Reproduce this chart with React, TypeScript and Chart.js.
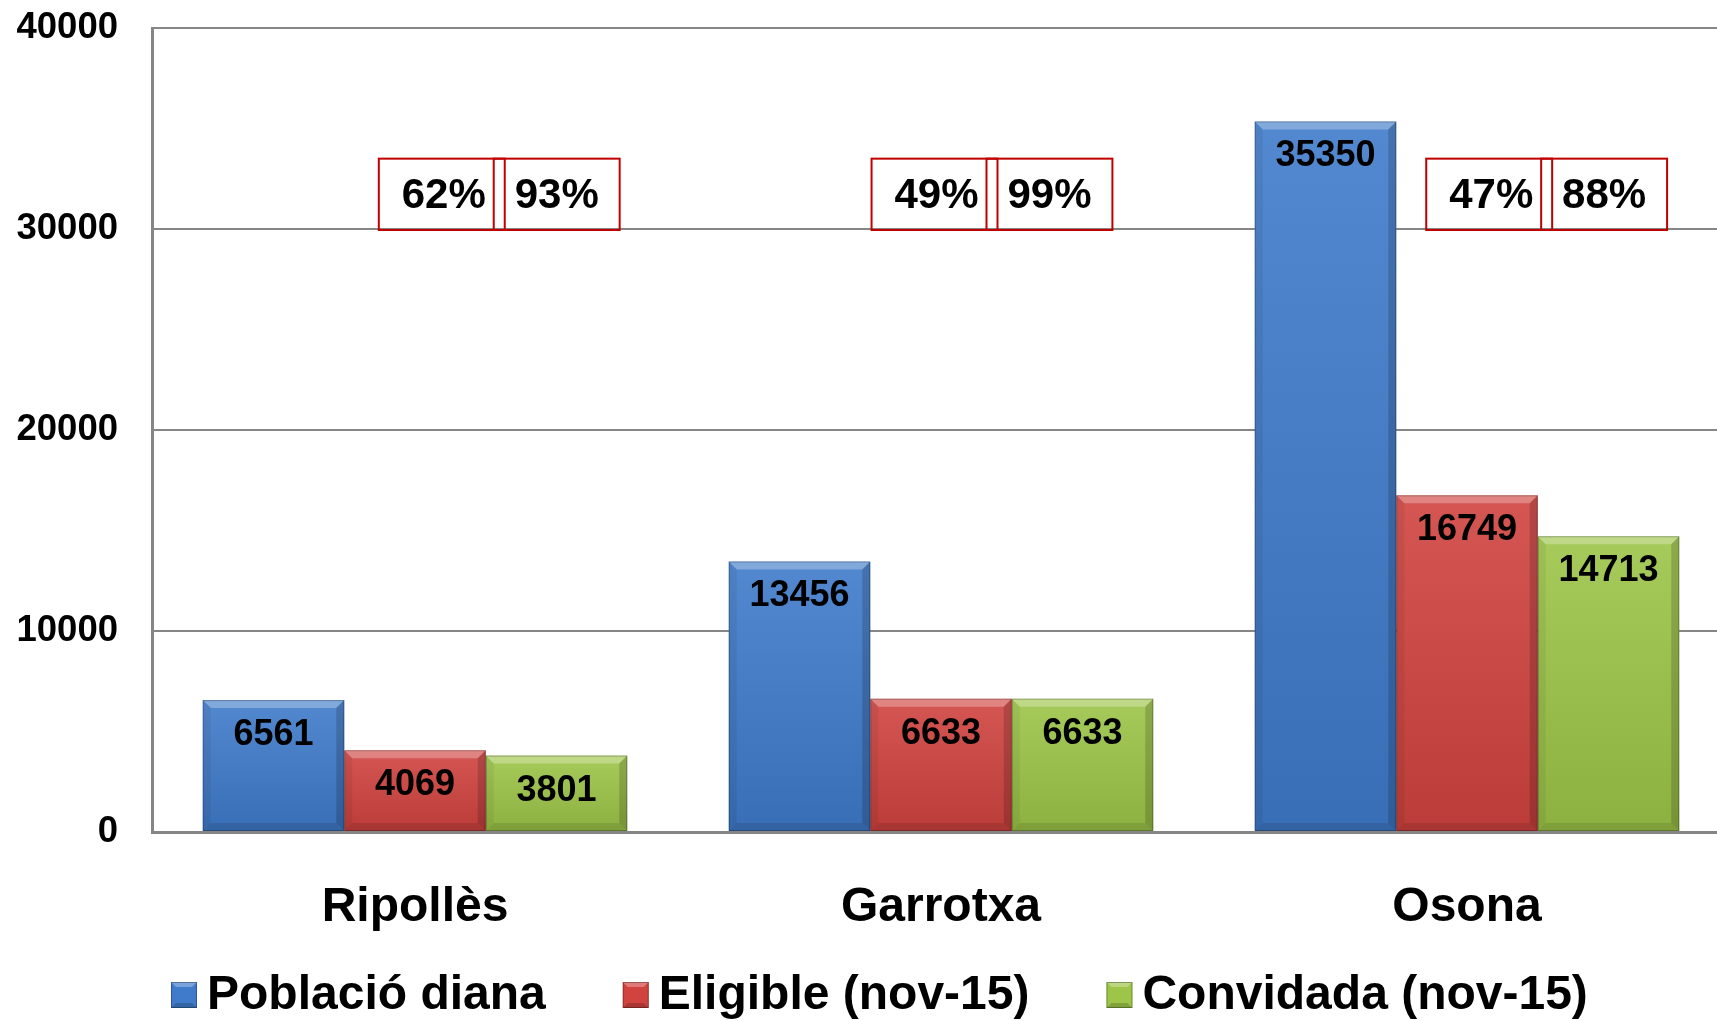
import { useEffect, useRef } from "react";
import { Chart, registerables } from "chart.js";

Chart.register(...registerables);

// ---- data ----
const categories = ["Ripollès", "Garrotxa", "Osona"];
const seriesLabels = ["Població diana", "Eligible (nov-15)", "Convidada (nov-15)"];
const poblacioDiana = [6561, 13456, 35350];
const eligible = [4069, 6633, 16749];
const convidada = [3801, 6633, 14713];
const pctEligible = ["62%", "49%", "47%"];
const pctConvidada = ["93%", "99%", "88%"];
const yTicks = [0, 10000, 20000, 30000, 40000];

// ---- styling ----
const FONT = '"Liberation Sans", Arial, Helvetica, sans-serif';
const seriesColors = ["#3f7bca", "#d0433f", "#9dc548"];
const GRID = "#868686";

const bevelPlugin = {
  id: "bevelBars",
  afterDatasetsDraw(chart: any) {
    const ctx = chart.ctx;
    chart.data.datasets.forEach((ds: any, di: number) => {
      const meta = chart.getDatasetMeta(di);
      meta.data.forEach((el: any, i: number) => {
        const p = el.getProps(["x", "y", "base", "width"], true);
        const x0 = p.x - p.width / 2;
        const x1 = p.x + p.width / 2;
        const y0 = Math.min(p.y, p.base);
        const y1 = Math.max(p.y, p.base);
        const b = 8;
        ctx.save();
        const g = ctx.createLinearGradient(0, y0, 0, y1);
        g.addColorStop(0, "rgba(255,255,255,0.10)");
        g.addColorStop(1, "rgba(0,0,0,0.10)");
        ctx.fillStyle = g;
        ctx.fillRect(x0, y0, x1 - x0, y1 - y0);
        ctx.fillStyle = "rgba(255,255,255,0.28)";
        ctx.beginPath();
        ctx.moveTo(x0, y0); ctx.lineTo(x1, y0); ctx.lineTo(x1 - b, y0 + b); ctx.lineTo(x0 + b, y0 + b); ctx.closePath();
        ctx.fill();
        ctx.fillStyle = "rgba(0,0,0,0.06)";
        ctx.beginPath();
        ctx.moveTo(x0, y0); ctx.lineTo(x0 + b, y0 + b); ctx.lineTo(x0 + b, y1 - b); ctx.lineTo(x0, y1); ctx.closePath();
        ctx.fill();
        ctx.fillStyle = "rgba(0,0,0,0.16)";
        ctx.beginPath();
        ctx.moveTo(x1, y0); ctx.lineTo(x1 - b, y0 + b); ctx.lineTo(x1 - b, y1 - b); ctx.lineTo(x1, y1); ctx.closePath();
        ctx.fill();
        ctx.fillStyle = "rgba(0,0,0,0.10)";
        ctx.beginPath();
        ctx.moveTo(x0, y1); ctx.lineTo(x0 + b, y1 - b); ctx.lineTo(x1 - b, y1 - b); ctx.lineTo(x1, y1); ctx.closePath();
        ctx.fill();
        ctx.strokeStyle = "rgba(0,0,0,0.25)";
        ctx.lineWidth = 1;
        ctx.strokeRect(x0 + 0.5, y0 + 0.5, x1 - x0 - 1, y1 - y0 - 1);
        ctx.fillStyle = "#000";
        ctx.font = `bold 36px ${FONT}`;
        ctx.textAlign = "center";
        ctx.textBaseline = "middle";
        ctx.fillText(String(ds.data[i]), p.x, y0 + 35);
        ctx.restore();
      });
    });
  },
};

const ratioBoxPlugin = {
  id: "ratioBoxes",
  afterDatasetsDraw(chart: any, _args: any, opts: any) {
    const ctx = chart.ctx;
    const xs = chart.scales.x;
    const ys = chart.scales.y;
    const catW = xs.width / categories.length;
    const yTop = ys.getPixelForValue(opts.topValue);
    const yBot = ys.getPixelForValue(opts.bottomValue);
    const bw = catW * opts.boxFrac;
    ctx.save();
    ctx.strokeStyle = "#c00000";
    ctx.lineWidth = 2;
    ctx.fillStyle = "#000";
    ctx.font = `bold 42px ${FONT}`;
    ctx.textAlign = "center";
    ctx.textBaseline = "middle";
    categories.forEach((_, i) => {
      const cx = xs.getPixelForValue(i);
      const l1 = cx + opts.offsets[i] * catW;
      const l2 = l1 + bw - opts.overlap;
      ctx.strokeRect(l1, yTop, bw, yBot - yTop);
      ctx.strokeRect(l2, yTop, bw, yBot - yTop);
      const ym = (yTop + yBot) / 2 + 2;
      ctx.fillText(opts.first[i], l1 + bw / 2 + 2, ym);
      ctx.fillText(opts.second[i], l2 + bw / 2, ym);
    });
    ctx.restore();
  },
};

const legendPlugin = {
  id: "customLegend",
  afterDraw(chart: any) {
    const ctx = chart.ctx;
    const yc = chart.height - 26;
    let x = 171;
    const box = 26;
    ctx.save();
    ctx.font = `bold 48px ${FONT}`;
    ctx.textBaseline = "middle";
    ctx.textAlign = "left";
    chart.data.datasets.forEach((ds: any) => {
      const y0 = yc - box / 2;
      ctx.fillStyle = ds.backgroundColor;
      ctx.fillRect(x, y0, box, box);
      const b = 5;
      ctx.fillStyle = "rgba(255,255,255,0.3)";
      ctx.beginPath();
      ctx.moveTo(x, y0); ctx.lineTo(x + box, y0); ctx.lineTo(x + box - b, y0 + b); ctx.lineTo(x + b, y0 + b); ctx.closePath(); ctx.fill();
      ctx.fillStyle = "rgba(0,0,0,0.18)";
      ctx.beginPath();
      ctx.moveTo(x, y0 + box); ctx.lineTo(x + b, y0 + box - b); ctx.lineTo(x + box - b, y0 + box - b); ctx.lineTo(x + box, y0 + box); ctx.closePath(); ctx.fill();
      ctx.strokeStyle = "rgba(0,0,0,0.3)";
      ctx.lineWidth = 1;
      ctx.strokeRect(x + 0.5, y0 + 0.5, box - 1, box - 1);
      ctx.fillStyle = "#000";
      const tx = x + box + 10;
      ctx.fillText(ds.label, tx, yc + 1);
      x = tx + ctx.measureText(ds.label).width + 77;
    });
    ctx.restore();
  },
};

export default function App() {
  const ref = useRef<HTMLCanvasElement | null>(null);
  useEffect(() => {
    if (!ref.current) return;
    const seriesData = [poblacioDiana, eligible, convidada];
    const chart = new Chart(ref.current, {
      type: "bar",
      data: {
        labels: categories,
        datasets: seriesLabels.map((label, i) => ({
          label,
          data: seriesData[i],
          backgroundColor: seriesColors[i],
          borderWidth: 0,
          categoryPercentage: 0.807,
          barPercentage: 1,
        })),
      },
      options: {
        animation: false,
        responsive: true,
        maintainAspectRatio: false,
        layout: { padding: { top: 28, left: 0, right: 0, bottom: 0 } },
        plugins: {
          legend: { display: false },
          tooltip: { enabled: false },
          ratioBoxes: {
            first: pctEligible,
            second: pctConvidada,
            offsets: [-0.0688, -0.132, -0.0775],
            boxFrac: 0.2394,
            overlap: 11,
            topValue: 33500,
            bottomValue: 29950,
          },
        } as any,
        scales: {
          x: {
            grid: { display: false, drawTicks: false },
            border: { display: true, color: GRID, width: 3 },
            ticks: {
              color: "#000",
              font: { family: FONT, size: 48, weight: "bold" },
              padding: 47,
            },
            afterFit: (s: any) => {
              s.height = 189;
              s.paddingLeft = 0;
              s.paddingRight = 0;
            },
          },
          y: {
            min: 0,
            max: 40000,
            afterBuildTicks: (s: any) => {
              s.ticks = yTicks.map((v) => ({ value: v }));
            },
            ticks: {
              color: "#000",
              font: { family: FONT, size: 36.5, weight: "bold" },
              padding: 34,
              callback: (v: any) => String(v),
            },
            grid: { color: GRID, lineWidth: 2, drawTicks: false },
            border: { display: true, color: GRID, width: 3 },
            afterFit: (s: any) => {
              s.width = 152;
              s.paddingTop = 0;
              s.paddingBottom = 0;
            },
          },
        },
      },
      plugins: [bevelPlugin, ratioBoxPlugin, legendPlugin],
    });
    return () => chart.destroy();
  }, []);
  return (
    <div style={{ position: "fixed", left: 0, top: 0, width: 1717, height: 1021, overflow: "hidden", background: "#fff" }}>
      <div style={{ position: "absolute", left: 0, top: 0, width: 1730, height: 1021 }}>
        <canvas ref={ref} />
      </div>
    </div>
  );
}
